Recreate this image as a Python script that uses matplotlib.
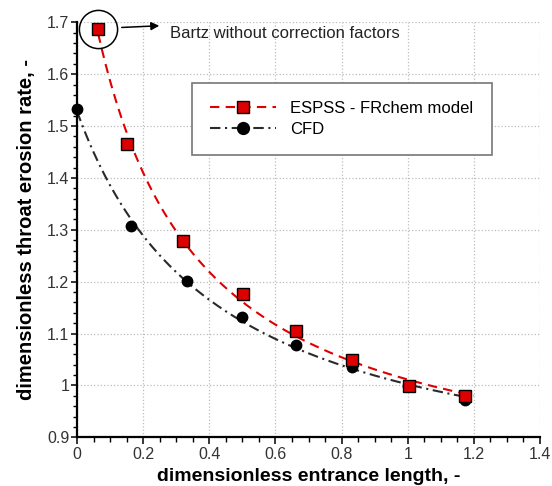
import numpy as np
import matplotlib
matplotlib.use('Agg')
import matplotlib.pyplot as plt
from matplotlib.lines import Line2D
from matplotlib.ticker import MultipleLocator, FormatStrFormatter

plt.rcParams['font.family'] = ['Liberation Sans', 'DejaVu Sans']

# ESPSS - FRchem model (red squares)
espss_x = [0.064, 0.151, 0.320, 0.501, 0.662, 0.832, 1.003, 1.172]
espss_y = [1.688, 1.465, 1.279, 1.177, 1.104, 1.049, 0.999, 0.979]

# CFD (black circles)
cfd_x = [0.0, 0.164, 0.332, 0.499, 0.662, 0.832, 1.0, 1.172]
cfd_y = [1.532, 1.308, 1.202, 1.131, 1.077, 1.036, 0.998, 0.972]

labels = ['ESPSS - FRchem model', 'CFD']
note = 'Bartz without correction factors'
curve_end = 1.2

RED = '#e00000'
DARK = '#2a2a2a'


def trend(x, y, x_end):
    """least squares fit y = a + b/(x+c), c picked by a coarse search"""
    x = np.asarray(x, float)
    y = np.asarray(y, float)
    best = None
    for c in np.linspace(0.01, 3, 900):
        A = np.column_stack([np.ones_like(x), 1.0 / (x + c)])
        coef = np.linalg.lstsq(A, y, rcond=None)[0]
        err = np.sum((A @ coef - y) ** 2)
        if best is None or err < best[0]:
            best = (err, c, coef)
    _, c, (a, b) = best
    xs = np.linspace(x.min(), x_end, 300)
    return xs, a + b / (xs + c)


fig = plt.figure(figsize=(5.52, 4.86), dpi=100)
ax = fig.add_axes([0.1395, 0.1002, 0.8388, 0.8539])

red_dash = (4.5, 3)
dark_dashdot = (5, 2.2, 1, 2.2)

xs, ys = trend(espss_x, espss_y, curve_end)
ax.plot(xs, ys, color=RED, lw=1.5, dashes=red_dash, zorder=3)
xs, ys = trend(cfd_x, cfd_y, curve_end)
ax.plot(xs, ys, color=DARK, lw=1.5, dashes=dark_dashdot, zorder=2)

ax.plot(cfd_x, cfd_y, ls='none', marker='o', ms=7.5, mfc='black',
        mec='black', zorder=4, clip_on=False)
ax.plot(espss_x, espss_y, ls='none', marker='s', ms=8.3, mfc='#dd0000',
        mec='black', mew=1.0, zorder=5, clip_on=False)

# circle round the first model point + arrow to the note
ax.plot(espss_x[0], espss_y[0], ls='none', marker='o', ms=27.5,
        mfc='none', mec='black', mew=1.1, zorder=6, clip_on=False)
ax.annotate('', xy=(espss_x[0], espss_y[0]), xytext=(44, 2),
            textcoords='offset points',
            arrowprops=dict(arrowstyle='<|-', color='black', lw=1.1,
                            shrinkA=0, shrinkB=17, mutation_scale=12))
ax.annotate(note, xy=(espss_x[0], espss_y[0]), xytext=(52, -3.5),
            textcoords='offset points', ha='left', va='center',
            fontsize=12, color='#222222')

ax.set_xlim(0, 1.4)
ax.set_ylim(0.9, 1.7)
ax.xaxis.set_major_locator(MultipleLocator(0.2))
ax.xaxis.set_minor_locator(MultipleLocator(0.05))
ax.yaxis.set_major_locator(MultipleLocator(0.1))
ax.yaxis.set_minor_locator(MultipleLocator(0.02))
ax.xaxis.set_major_formatter(FormatStrFormatter('%g'))
ax.yaxis.set_major_formatter(FormatStrFormatter('%g'))

ax.grid(True, which='major', color='#bdbdbd', ls=':', lw=0.9)
ax.set_axisbelow(True)

for side in ['top', 'right']:
    ax.spines[side].set_visible(False)
for side in ['left', 'bottom']:
    ax.spines[side].set_linewidth(1.6)

ax.tick_params(axis='both', which='major', labelsize=11.5, width=1.1,
               color='black', labelcolor='#333333')
ax.tick_params(axis='x', which='major', length=5, pad=2)
ax.tick_params(axis='x', which='minor', length=3.5, width=1.0)
ax.tick_params(axis='y', which='major', length=4.5, pad=1)
ax.tick_params(axis='y', which='minor', length=3, width=1.0)

ax.set_xlabel('dimensionless entrance length, -', fontsize=14,
              fontweight='bold', labelpad=4)
ax.set_ylabel('dimensionless throat erosion rate, -', fontsize=14.5,
              fontweight='bold', labelpad=8)

handles = [
    Line2D([], [], color=RED, lw=1.5, dashes=red_dash, marker='s', ms=8.3,
           mfc='#dd0000', mec='black'),
    Line2D([], [], color=DARK, lw=1.5, dashes=dark_dashdot, marker='o',
           ms=8.5, mfc='black', mec='black'),
]
leg = ax.legend(handles, labels, loc='upper left',
                bbox_to_anchor=(0.248, 0.854), fontsize=12, frameon=True,
                fancybox=False, handlelength=3.95, handletextpad=0.85,
                borderpad=1.1, labelspacing=0.32, borderaxespad=0)
leg.get_frame().set_edgecolor('#777777')
leg.get_frame().set_linewidth(1.2)
leg.get_frame().set_alpha(1)

fig.savefig('out.png', dpi=100)
